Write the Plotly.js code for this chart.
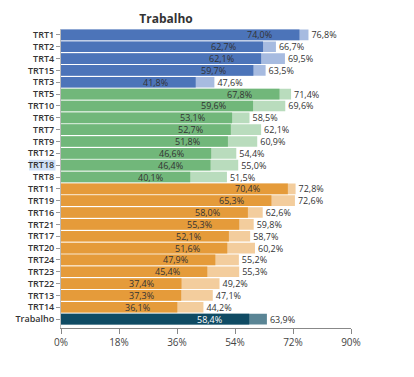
<!DOCTYPE html>
<html><head><meta charset="utf-8">
<script src="https://cdn.plot.ly/plotly-3.0.1.min.js"></script>
<style>html,body{margin:0;padding:0;background:#fff}#chart{width:414px;height:377px}</style>
</head><body><div id="chart"></div>
<script>
const categories = ["TRT1","TRT2","TRT4","TRT15","TRT3","TRT5","TRT10","TRT6","TRT7","TRT9","TRT12","TRT18","TRT8","TRT11","TRT19","TRT16","TRT21","TRT17","TRT20","TRT24","TRT23","TRT22","TRT13","TRT14","Trabalho"];
const groups = ["a","a","a","a","a","b","b","b","b","b","b","b","b","c","c","c","c","c","c","c","c","c","c","c","t"];
const valueInner = [74.0,62.7,62.1,59.7,41.8,67.8,59.6,53.1,52.7,51.8,46.6,46.4,40.1,70.4,65.3,58.0,55.3,52.1,51.6,47.9,45.4,37.4,37.3,36.1,58.4];
const valueOuter = [76.8,66.7,69.5,63.5,47.6,71.4,69.6,58.5,62.1,60.9,54.4,55.0,51.5,72.8,72.6,62.6,59.8,58.7,60.2,55.2,55.3,49.2,47.1,44.2,63.9];
const xTicks = [0,18,36,54,72,90];

const dark = {a:"#4c74b9", b:"#71b77a", c:"#e59b3a", t:"#0f4b64"};
const light = {a:"#a7bbe0", b:"#b9dcbd", c:"#f3cd9d", t:"#5a8595"};
const FONT = "'Open Sans','Liberation Sans',sans-serif";
const ST = 'condensed';

const fmt = v => v.toFixed(1).replace('.', ',') + '%';

const traces = [
  {type:'bar', orientation:'h', y:categories, x:valueOuter,
   marker:{color:groups.map(g=>light[g])},
   text:valueOuter.map(fmt), textposition:'outside', constraintext:'none', cliponaxis:false,
   textfont:{family:FONT, size:9, color:'#333', stretch:ST}, hoverinfo:'x+y'},
  {type:'bar', orientation:'h', y:categories, x:valueInner,
   marker:{color:groups.map(g=>dark[g])}, hoverinfo:'x+y'}
];

const annotations = categories.map((c,i)=>({
  x:valueInner[i], y:c, xref:'x', yref:'y', text:fmt(valueInner[i]), showarrow:false,
  xanchor:'center', xshift:-40, font:{family:FONT, size:9, stretch:ST, color: groups[i]==='t' ? '#ffffff' : '#333'}
}));

const layout = {
  width:414, height:377, margin:{l:61, r:63, t:29, b:49},
  paper_bgcolor:'#fff', plot_bgcolor:'#fff',
  barmode:'overlay', bargap:0.1, showlegend:false, separators:',.',
  font:{family:FONT, color:'#333', stretch:ST},
  title:{text:'<b>Trabalho</b>', x:166/414, xref:'container', xanchor:'center', y:1-19/377, yref:'container', yanchor:'middle', font:{family:FONT, size:12, color:'#333', stretch:ST}},
  xaxis:{range:[0,90], tickvals:xTicks, ticktext:xTicks.map(v=>v+'%'), showgrid:false, zeroline:false,
    showline:true, linecolor:'#888', linewidth:1, ticks:'outside', ticklen:5, tickcolor:'#888',
    tickfont:{family:FONT, size:10, color:'#444', stretch:ST}},
  yaxis:{type:'category', categoryorder:'array', categoryarray:categories, range:[24.75,-0.5],
    showgrid:false, zeroline:false, showline:true, linecolor:'#bbb', linewidth:1,
    ticks:'outside', ticklen:4, tickcolor:'#999',
    tickfont:{family:FONT, size:9, color:'#333', weight:600, stretch:ST}},
  annotations:annotations,
  shapes:[{type:'rect', xref:'paper', yref:'y', x0:-0.11, x1:-0.019, y0:10.55, y1:11.45, fillcolor:'#cfe0f7', line:{width:0}, layer:'below'}]
};
Plotly.newPlot('chart', traces, layout, {displayModeBar:false, staticPlot:true});
</script></body></html>
